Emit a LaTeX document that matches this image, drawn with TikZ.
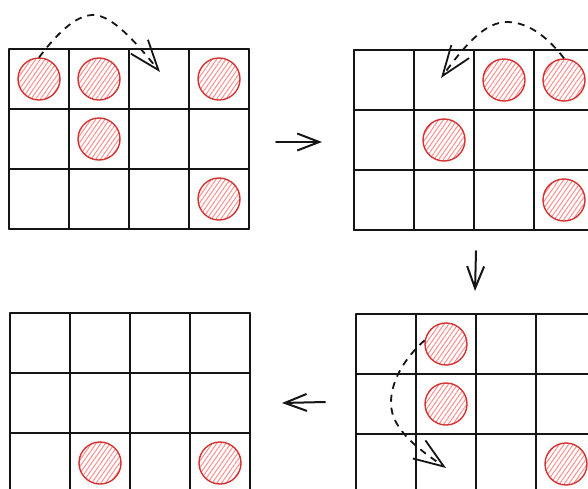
\documentclass[tikz,border=0pt]{standalone}
\usetikzlibrary{patterns.meta,arrows.meta}
\definecolor{tokred}{HTML}{D43333}
\definecolor{tokhatch}{HTML}{FF8F8F}
\definecolor{ink}{HTML}{151515}
\newcommand{\boardat}[3]{%
  \begin{scope}[shift={(#1,#2)}]
    \foreach \i in {0,...,4} {\draw[cellline] (60*\i,0) -- (60*\i,180);}
    \foreach \j in {0,...,3} {\draw[cellline] (0,60*\j) -- (240,60*\j);}
    \foreach \r in {0,1,2} {\foreach \c in {0,...,3} {\coordinate (#3-\r-\c) at (60*\c+30,60*\r+30);}}
  \end{scope}}
\begin{document}
\begin{tikzpicture}[x=1pt,y=-1pt,
  cellline/.style={line width=1.8pt, ink, line cap=round},
  token/.style={circle, draw=tokred, line width=1.4pt, minimum size=42pt, inner sep=0pt,
    pattern={Lines[angle=55,distance=3.8pt,line width=1pt]}, pattern color=tokhatch},
  move/.style={ink, line width=1.8pt, dash pattern=on 7pt off 6pt,
    -{Straight Barb[length=30pt,width=22pt,line width=1.8pt]}},
  flow/.style={ink, line width=2pt, line cap=round,
    -{Straight Barb[length=22pt,width=17pt,line width=2pt]}}]
\useasboundingbox (0,0) rectangle (588,488);
\clip (0,0) rectangle (588,488);
% boards
\boardat{9}{49}{A}
\boardat{354}{50}{B}
\boardat{356}{314}{C}
\boardat{10}{313}{D}
% tokens, board A
\node[token] (a1) at (A-0-0) {};
\node[token] (a2) at (A-0-1) {};
\node[token] (a3) at (A-0-3) {};
\node[token] (a4) at (A-1-1) {};
\node[token] (a5) at (A-2-3) {};
% tokens, board B
\node[token] (b1) at (B-0-2) {};
\node[token] (b2) at (B-0-3) {};
\node[token] (b3) at (B-1-1) {};
\node[token] (b4) at (B-2-3) {};
% tokens, board C
\node[token] (c1) at (C-0-1) {};
\node[token] (c2) at (C-1-1) {};
\node[token] (c3) at (C-2-3) {};
% tokens, board D
\node[token] (d1) at (D-2-1) {};
\node[token] (d2) at (D-2-3) {};
% move arcs
\coordinate (tA) at (160,72);
\coordinate (tB) at (441,78);
\coordinate (tC) at (446,468);
\draw[move] (a1.north) .. controls (55,36) and (75,15) .. (93,15)
  .. controls (113,15) and (138,45) .. (tA);
\draw[move] (b2.north) .. controls (550,40) and (530,22) .. (507,22)
  .. controls (485,22) and (465,45) .. (tB);
\draw[move] (c1.170) .. controls (405,358) and (391,380) .. (391,403)
  .. controls (391,430) and (420,450) .. (tC);
% flow arrows between boards
\coordinate (f1s) at (276,142);
\coordinate (f1e) at (322,142);
\coordinate (f2s) at (476,251);
\coordinate (f2e) at (475,291);
\coordinate (f3s) at (325,402);
\coordinate (f3e) at (282,403);
\draw[flow] (f1s) -- (f1e);
\draw[flow] (f2s) -- (f2e);
\draw[flow] (f3s) -- (f3e);
\end{tikzpicture}
\end{document}
